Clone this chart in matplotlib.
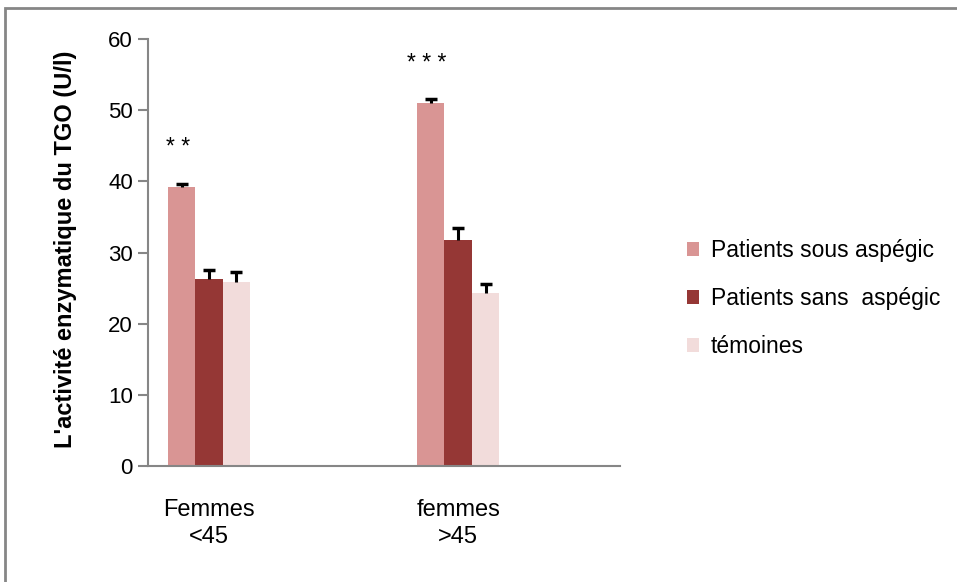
import matplotlib.pyplot as plt
import numpy as np
from matplotlib.patches import Rectangle

plt.rcParams['font.family'] = ['Liberation Sans Narrow', 'Liberation Sans', 'DejaVu Sans']

categories = ["Femmes\n<45", "femmes\n>45"]
series = ["Patients sous aspégic", "Patients sans  aspégic", "témoines"]
values = [
    [39.2, 51.0],
    [26.3, 31.8],
    [25.9, 24.3],
]
errors = [
    [0.4, 0.5],
    [1.2, 1.6],
    [1.4, 1.3],
]
stars = ["* *", "* * *"]
colors = ["#D99594", "#953735", "#F2DCDB"]

fig = plt.figure(figsize=(9.57, 5.82), dpi=100)
ax = fig.add_axes([0.1547, 0.1993, 0.4932, 0.7337])

x = np.arange(len(categories))
w = 0.11
for i, (vals, errs) in enumerate(zip(values, errors)):
    pos = x + (i - 1) * w
    vals = np.array(vals)
    errs = np.array(errs)
    ax.bar(pos, vals, width=w, color=colors[i], label=series[i], zorder=2)
    # barre d'erreur vers le haut seulement (en T)
    ax.vlines(pos, vals, vals + errs, color="black", linewidth=2.2, zorder=3)
    ax.plot(pos, vals + errs, linestyle="none", marker="_", markersize=9,
            markeredgewidth=2.5, color="black", zorder=3)

# étoiles de significativité au-dessus des barres "sous aspégic"
for xi, s, v in zip(x, stars, values[0]):
    ax.text(xi - 0.126, v + 4.0, s, ha="center", va="bottom", fontsize=16.5)

ax.set_xlim(-0.245, 1.65)
ax.set_ylim(0, 60)
ax.set_yticks(range(0, 61, 10))
ax.set_xticks(x)
ax.set_xticklabels(categories, fontsize=17, linespacing=1.25, ha="center")
ax.tick_params(axis="x", length=0, pad=24)
ax.tick_params(axis="y", labelsize=16, length=7, color="#868686", width=1.5, pad=4)
for side in ["top", "right"]:
    ax.spines[side].set_visible(False)
for side in ["left", "bottom"]:
    ax.spines[side].set_color("#868686")
    ax.spines[side].set_linewidth(1.5)
ax.set_ylabel("L'activité enzymatique du TGO (U/l)", fontsize=17, fontweight="bold")
ax.yaxis.set_label_coords(-0.15, 0.508)

fig.legend(loc="center left", bbox_to_anchor=(0.708, 0.487), frameon=False, fontsize=16.5,
           handlelength=0.55, handleheight=0.55, handletextpad=0.5, labelspacing=1.1,
           borderaxespad=0)

# cadre gris autour de la figure
fig.patches.append(Rectangle((0.005, -0.01), 1.2, 0.997, transform=fig.transFigure,
                             fill=False, edgecolor="#868686", linewidth=2))

fig.savefig("out.png", dpi=100)
